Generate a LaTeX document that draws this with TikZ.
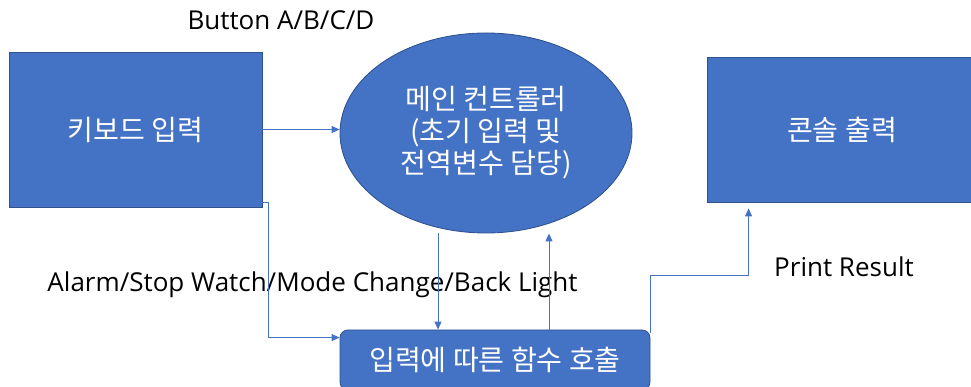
\documentclass[tikz,border=0pt]{standalone}
\usepackage{fontspec}
\setmainfont{Open Sans}
\newfontfamily\kr{Noto Sans CJK KR}
\usepackage{tikz}
\usetikzlibrary{shapes}
\usetikzlibrary{arrows.meta}
\definecolor{boxblue}{HTML}{4472C4}
\definecolor{edgeblue}{HTML}{2F528F}
\tikzset{ blk_box/.style = {rectangle, draw=edgeblue, fill=boxblue, line width=0.6pt, text=white, align=center, inner sep=0pt, font=\kr\fontsize{20}{22.7}\selectfont} }
\tikzset{ ctl_ell/.style = {ellipse, draw=edgeblue, fill=boxblue, line width=0.6pt, text=white, align=center, inner sep=0pt, font=\kr\fontsize{20}{22.7}\selectfont} }
\tikzset{ lbl/.style = {inner sep=0pt, text=black, font=\fontsize{18.5}{21}\selectfont} }
\tikzset{ flow/.style = {draw=boxblue, line width=0.7pt, -{Triangle[length=5.7pt,width=5pt]}} }

\begin{document}
\begin{tikzpicture}
\useasboundingbox (0,0) rectangle (24.275,9.675);
\node[blk_box, minimum width=6.325cm, minimum height=3.875cm] (kbd) at (3.3875,6.4375) {키보드 입력};
\node[ctl_ell, minimum width=7.3cm, minimum height=5cm] (main) at (12.15,6.35) {메인 컨트롤러\\(초기 입력 및\\전역변수 담당)};
\node[blk_box, minimum width=6.75cm, minimum height=3.625cm] (out) at (21.05,6.4375) {콘솔 출력};
\node[blk_box, rounded corners=0.2cm, minimum width=7.75cm, minimum height=1.5cm] (func) at (12.375,0.675) {입력에 따른 함수 호출};
\node[lbl] (btn) at (7.025,9.175) {Button A/B/C/D};
\node[lbl] (mode) at (7.8125,2.55) {Alarm/Stop Watch/Mode Change/Back Light};
\node[lbl] (prt) at (21.1,3.0) {Print Result};
\draw[flow] (kbd.east) -- (kbd.east -| main.west);
\draw[flow] ([yshift=0.125cm]kbd.south east) -- ++(0.15,0) |- ([yshift=-0.2cm]func.north west);
\draw[flow] ([xshift=-1.2cm]main.south) -- ([xshift=-1.2cm]main.south |- func.north);
\draw[flow] ([xshift=1.575cm]main.south |- func.north) -- ([xshift=1.575cm]main.south);
\draw[flow] ([yshift=-0.075cm]func.north east) -- ++(0,1.425) -| ([xshift=1.05cm,yshift=-0.15cm]out.south west);
\end{tikzpicture}
\end{document}
